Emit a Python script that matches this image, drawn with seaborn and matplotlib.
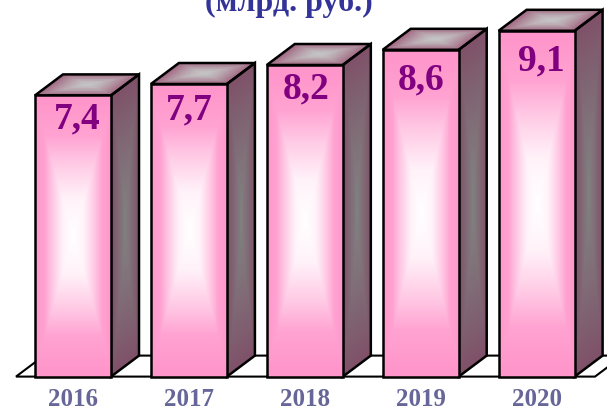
import numpy as np
import pandas as pd
import matplotlib
matplotlib.use("Agg")
import matplotlib.pyplot as plt
from matplotlib.colors import LinearSegmentedColormap
from matplotlib.patches import Polygon
import seaborn as sns

# Data
years = ["2016", "2017", "2018", "2019", "2020"]
values = [7.4, 7.7, 8.2, 8.6, 9.1]
value_labels = ["7,4", "7,7", "8,2", "8,6", "9,1"]
title_text = "(млрд. руб.)"

sns.set_theme(style="white")
plt.rcParams["font.family"] = ["Liberation Serif", "DejaVu Serif"]

W, H = 607, 410
PX_X = 115.9  # pixels per category
PX_Y = 38.0  # pixels per value unit
X0, Y0 = 73.0, 377.6
DX = 28 / PX_X  # depth of the 3d box
DY = 21 / PX_Y

# label nudges from bar centre / bar top, in pixels
label_dx = [4, 0, 1.5, 0, 4.5]
label_dy = [22.5, 25, 23, 29, 29.5]

front_cmap = LinearSegmentedColormap.from_list(
    "front", [(0, "#ffffff"), (0.28, "#fff2f9"), (0.55, "#ffc8e4"), (0.75, "#ffa3d2"), (1, "#ff96cb")]
)
side_cmap = LinearSegmentedColormap.from_list("side", ["#808080", "#7f5068"])
top_cmap = LinearSegmentedColormap.from_list("top", ["#c4c4c4", "#a0647f"])


def px_x(px):
    return (px - X0) / PX_X


fig = plt.figure(figsize=(W / 100, H / 100), dpi=100)
ax = fig.add_axes([0, 0, 1, 1])

df = pd.DataFrame({"pos": range(len(years)), "value": values})
sns.barplot(data=df, x="pos", y="value", native_scale=True, width=0.656, color="#ff96cb",
            edgecolor="black", linewidth=1.8, ax=ax, zorder=5)
bars = list(ax.patches)


def front_shade():
    # white glow around the middle, pink towards the edges
    u, v = np.meshgrid(np.linspace(-1, 1, 120), np.linspace(0, 1, 400))
    vert = np.where(v < 0.5, (0.5 - v) / 0.5, (v - 0.5) / 0.5)
    return np.clip(np.maximum(np.abs(u), vert * 1.05), 0, 1)


# floor
ax.add_patch(Polygon(
    [(px_x(16), 0), (px_x(595), 0), (px_x(623), DY), (px_x(44), DY)],
    closed=True, facecolor="white", edgecolor="black", linewidth=1.5, zorder=1, joinstyle="miter",
))

for bar, value, label, dx, dy in zip(bars, values, value_labels, label_dx, label_dy):
    left, width = bar.get_x(), bar.get_width()
    right = left + width

    # side face
    u, v = np.meshgrid(np.linspace(0, 1, 41), np.linspace(0, 1, 161))
    px = right + u * DX
    py = u * DY + v * value
    shade = np.maximum(np.abs(u[:-1, :-1] * 2 - 1), np.abs(v[:-1, :-1] * 2 - 1) ** 1.3)
    ax.pcolormesh(px, py, shade, cmap=side_cmap, vmin=0, vmax=1, zorder=3, shading="flat", rasterized=True)
    ax.add_patch(Polygon([(right, 0), (right + DX, DY), (right + DX, value + DY), (right, value)], closed=True,
                         facecolor="none", edgecolor="black", linewidth=1.8, zorder=4, joinstyle="miter"))

    # top face
    u, v = np.meshgrid(np.linspace(0, 1, 61), np.linspace(0, 1, 31))
    px = left + u * width + v * DX
    py = value + v * DY
    shade = np.maximum(np.abs(u[:-1, :-1] * 2 - 1) ** 1.5, np.abs(v[:-1, :-1] * 2 - 1) ** 1.5)
    ax.pcolormesh(px, py, shade, cmap=top_cmap, vmin=0, vmax=1, zorder=3, shading="flat", rasterized=True)
    ax.add_patch(Polygon([(left, value), (right, value), (right + DX, value + DY), (left + DX, value + DY)], closed=True,
                         facecolor="none", edgecolor="black", linewidth=1.8, zorder=4, joinstyle="miter"))

    # front face
    ax.imshow(front_shade(), cmap=front_cmap, vmin=0, vmax=1, origin="upper", aspect="auto",
              extent=(left, right, 0, value), zorder=5.5)
    bar.set_zorder(6)
    bar.set_facecolor("none")

    ax.text(left + width / 2 + dx / PX_X, value - dy / PX_Y, label, ha="center", va="center", color="#800080",
            fontsize=27, fontweight="bold", zorder=7)

ax.set_xlim(-X0 / PX_X, (W - X0) / PX_X)
ax.set_ylim((Y0 - H) / PX_Y, Y0 / PX_Y)
ax.axis("off")

for i, year in enumerate(years):
    ax.text(i, -22 / PX_Y, year, ha="center", va="center", color="#666699", fontsize=18, fontweight="bold")

fig.text(289 / W, 1 - 11 / H, title_text, ha="center", va="baseline", color="#333399", fontsize=23, fontweight="bold")

fig.savefig("out.png", dpi=100)
